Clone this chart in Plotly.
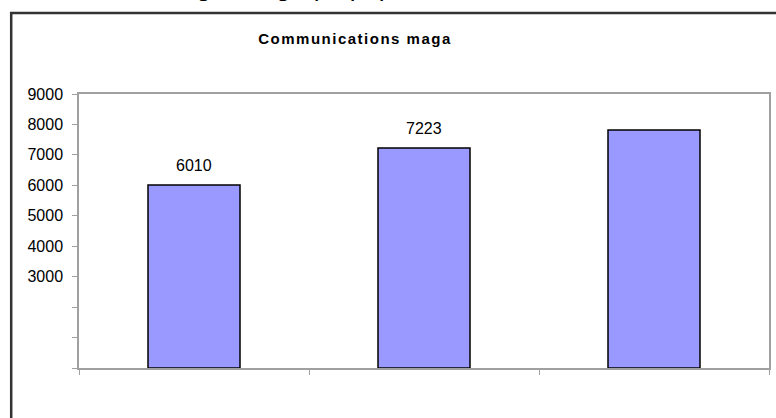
import plotly.graph_objects as go

# data
categories = ["Cat 1", "Cat 2", "Cat 3"]
values = [6010, 7223, 7820]
value_labels = ["6010", "7223", ""]
tick_values = [0, 1000, 2000, 3000, 4000, 5000, 6000, 7000, 8000, 9000]
tick_labels = ["", "", "", "3000", "4000", "5000", "6000", "7000", "8000", "9000"]

W, H = 776, 418
L, R, T, B = 79, 5, 94, 50
pw, ph = W - L - R, H - T - B


def px_x(x):
    return (x - L) / pw


def px_y(y):
    return (H - B - y) / ph


fig = go.Figure()
fig.add_trace(go.Bar(
    x=categories, y=values,
    marker=dict(color="#9999ff", line=dict(color="#000000", width=1.5)),
    width=0.4, hoverinfo="skip",
))

# value labels above bars
for c, v, t in zip(categories, values, value_labels):
    if t:
        fig.add_annotation(x=c, y=v, text=t, showarrow=False, yanchor="bottom",
                           yshift=9, font=dict(size=16, color="#000000",
                                               family="Liberation Sans, Arial"))

# cut-off heading text above the chart box (only descenders show)
fig.add_annotation(xref="paper", yref="paper", x=px_x(118), y=px_y(4),
                   xanchor="left", yanchor="bottom", showarrow=False,
                   text="drawing on a graph paper",
                   font=dict(size=26, color="#000000", family="Liberation Sans, Arial"))

# outer frame of the embedded chart
fig.add_shape(type="rect", xref="paper", yref="paper",
              x0=px_x(11), x1=px_x(800), y0=px_y(440), y1=px_y(13),
              line=dict(color="#333333", width=2.5), fillcolor="rgba(0,0,0,0)",
              layer="above")

fig.update_layout(
    width=W, height=H,
    margin=dict(l=L, r=R, t=T, b=B),
    paper_bgcolor="white", plot_bgcolor="white",
    showlegend=False,
    title=dict(
        text='<span style="letter-spacing:1.5px">Communications maga</span>',
        x=355 / W, xanchor="center", y=1 - 39 / H, yanchor="middle",
        font=dict(size=15, color="#000000", family="Liberation Sans, Arial", weight="bold"),
    ),
    font=dict(family="Liberation Sans, Arial", color="#000000"),
)

fig.update_xaxes(
    showticklabels=False, showgrid=False,
    showline=True, linecolor="#a0a0a0", linewidth=1.5, mirror=True,
    ticks="outside", tickson="boundaries", ticklen=5, tickcolor="#a0a0a0",
)
fig.update_yaxes(
    range=[0, 9000], showgrid=False, zeroline=False,
    tickmode="array", tickvals=tick_values, ticktext=tick_labels,
    tickfont=dict(size=16, color="#000000"),
    showline=True, linecolor="#a0a0a0", linewidth=1.5, mirror=True,
    ticks="outside", ticklen=5, tickcolor="#a0a0a0", ticklabelstandoff=6,
)

# drop the browser's default 8px body margin so the figure sits at (0, 0)
fig.write_html("out.html", config={"displayModeBar": False},
               post_script="document.body.style.margin='0';")
